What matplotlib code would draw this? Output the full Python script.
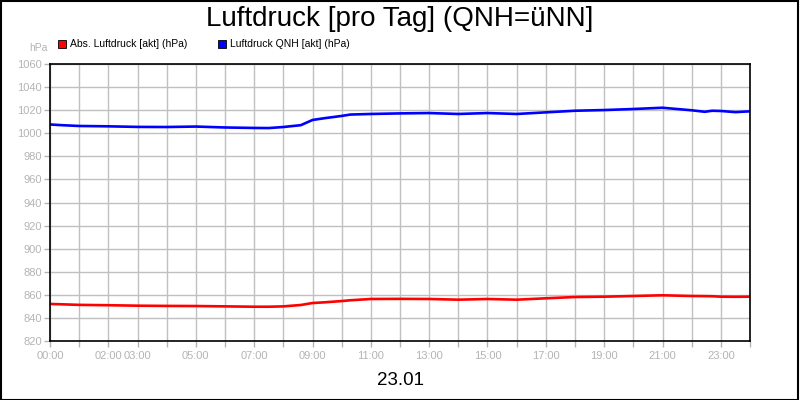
import matplotlib
matplotlib.use("Agg")
import matplotlib.pyplot as plt
from matplotlib.patches import Rectangle

plt.rcParams['font.family'] = ['Liberation Sans', 'DejaVu Sans']

# hours of day
hours = [0, 0.4, 1, 2, 3, 4, 5, 6, 7, 7.5, 8, 8.6, 9, 9.4, 10, 10.3, 11, 12, 13, 14, 15, 16, 17, 18, 19, 20, 21, 22, 22.45, 22.7, 23, 23.5, 24]
qnh = [1007.6, 1007.0, 1006.3, 1006.0, 1005.5, 1005.4, 1005.8, 1005.0, 1004.6, 1004.5, 1005.4, 1007.0, 1011.5, 1013.0, 1015.0, 1016.2, 1016.7, 1017.2, 1017.5, 1016.7, 1017.5, 1016.7, 1018.1, 1019.5, 1020.1, 1021.0, 1022.1, 1019.9, 1018.6, 1019.5, 1019.3, 1018.3, 1019.0]
abs_p = [852.1, 851.8, 851.3, 851.0, 850.6, 850.4, 850.3, 850.0, 849.7, 849.7, 850.0, 851.2, 852.9, 853.5, 854.6, 855.3, 856.4, 856.5, 856.4, 855.8, 856.4, 855.8, 857.0, 858.1, 858.4, 859.0, 859.6, 859.0, 858.9, 858.8, 858.4, 858.3, 858.4]

tick_hours = list(range(25))
label_hours = [0, 2, 3, 5, 7, 9, 11, 13, 15, 17, 19, 21, 23]
y_ticks = list(range(820, 1061, 20))

title = "Luftdruck [pro Tag] (QNH=üNN]"
series_names = ["Abs. Luftdruck [akt] (hPa)", "Luftdruck QNH [akt] (hPa)"]
series_colors = ["#ff0000", "#0000ff"]
date_label = "23.01"

fig = plt.figure(figsize=(8, 4), dpi=100)
fig.patch.set_facecolor("white")
fig.patches.append(Rectangle((0.001, 0.001), 0.997, 0.996, transform=fig.transFigure,
                             fill=False, edgecolor="black", linewidth=1.5))

ax = fig.add_axes([0.0625, 0.1475, 0.875, 0.6925])
ax.plot(hours, abs_p, color=series_colors[0], linewidth=1.9, solid_joinstyle="round")
ax.plot(hours, qnh, color=series_colors[1], linewidth=1.9, solid_joinstyle="round")

ax.set_xlim(0, 24)
ax.set_ylim(820, 1060)
ax.set_xticks(tick_hours)
ax.set_xticklabels([f"{h:02d}:00" if h in label_hours else "" for h in tick_hours])
ax.set_yticks(y_ticks)
ax.set_yticklabels([str(v) for v in y_ticks])
ax.grid(True, color="#c0c0c0", linewidth=1.0)
ax.set_axisbelow(True)
ax.tick_params(axis="both", colors="#b4b4b4", labelsize=8, length=4, width=1)
ax.tick_params(axis="x", pad=3)
ax.tick_params(axis="y", pad=2)
for s in ax.spines.values():
    s.set_color("black")
    s.set_linewidth(1.2)

fig.text(0.5, 0.953, title, ha="center", va="center", fontsize=20, color="black")
fig.text(0.06, 0.88, "hPa", ha="right", va="center", fontsize=7.5, color="#b4b4b4")
fig.text(0.5, 0.048, date_label, ha="center", va="center", fontsize=13.5, color="black")

leg_x = [0.0725, 0.2725]
for name, col, lx in zip(series_names, series_colors, leg_x):
    fig.patches.append(Rectangle((lx, 0.881), 0.01, 0.02, transform=fig.transFigure,
                                 facecolor=col, edgecolor="black", linewidth=0.6))
    fig.text(lx + 0.015, 0.891, name, ha="left", va="center", fontsize=7.5, color="black")

fig.savefig("out.png", dpi=100)
